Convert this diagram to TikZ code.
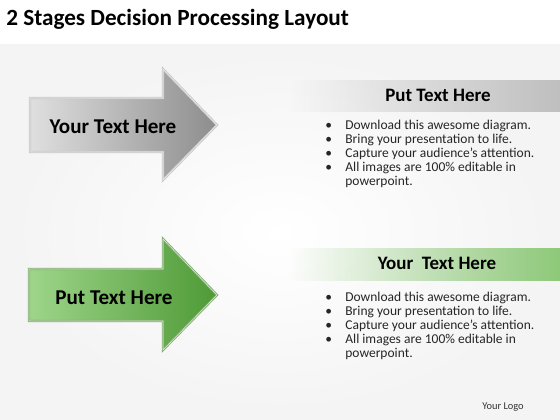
\documentclass[tikz,border=0pt]{standalone}
\usepackage{fontspec}
\setmainfont{Carlito}
\usetikzlibrary{positioning, fadings}
\definecolor{silver}{HTML}{A6A6A6}
\definecolor{leafgreen}{HTML}{4E9A36}
\definecolor{palegreen}{HTML}{9ED58A}
\tikzset{
  arrowtext/.style = {font=\fontsize{15}{18}\selectfont\bfseries, text=black},
  headtext/.style = {font=\fontsize{13.5}{16}\selectfont\bfseries, text=black},
  bullets/.style = {font=\fontsize{9.6}{10}\selectfont, text=black!85, align=left, anchor=north west, inner sep=0pt}
}
\newcommand{\bulletlist}{%
  \begin{tabular}{@{}l@{\hspace{9.5pt}}l@{}}
    \textbullet & Download this awesome diagram.\\
    \textbullet & Bring your presentation to life.\\
    \textbullet & Capture your audience’s attention.\\
    \textbullet & All images are 100\% editable in\\
                & powerpoint.
  \end{tabular}}

\begin{document}
\begin{tikzpicture}[x=0.025cm, y=-0.025cm]
  \useasboundingbox (0,0) rectangle (560,420);

  % Background
  \fill[white] (0,0) rectangle (560,420);
  \shade[inner color=white, outer color=gray!9] (0,45) rectangle (560,420);

  % Title
  \node[anchor=west, inner sep=0pt, font=\fontsize{16.5}{20}\selectfont\bfseries] (title) at (6,19) {2 Stages Decision Processing Layout};

  % Grey arrow
  \path[left color=gray!25, right color=silver!85!black]
    (30,98) -- (163,98) -- (163,69) -- (217,125) -- (163,180) -- (163,152) -- (30,152) -- cycle;
  \draw[gray!45, line width=1.6pt, line join=miter]
    (30,98) -- (163,98) -- (163,69) -- (217,125) -- (163,180) -- (163,152) -- (30,152) -- cycle;
  \draw[white!85!gray, line width=0.4pt, line join=miter]
    (30,98) -- (163,98) -- (163,69) -- (217,125) -- (163,180) -- (163,152) -- (30,152) -- cycle;
  \node[arrowtext] (grey) at (113,127) {Your Text Here};

  % Green arrow
  \path[left color=palegreen, right color=leafgreen]
    (29,269) -- (163,269) -- (163,239) -- (217,295) -- (163,350) -- (163,321) -- (29,321) -- cycle;
  \draw[palegreen!80!black, line width=1.6pt, line join=miter]
    (29,269) -- (163,269) -- (163,239) -- (217,295) -- (163,350) -- (163,321) -- (29,321) -- cycle;
  \draw[palegreen!40!white, line width=0.4pt, line join=miter]
    (29,269) -- (163,269) -- (163,239) -- (217,295) -- (163,350) -- (163,321) -- (29,321) -- cycle;
  \node[arrowtext] (green) at (114,298) {Put Text Here};

  % Header bars
  \fill[gray!50, path fading=west] (290,80) rectangle (560,112);
  \node[headtext] (greyhead) at (438,95) {Put Text Here};
  \fill[palegreen!80!leafgreen, path fading=west] (290,248) rectangle (560,281);
  \node[headtext] (greenhead) at (437,263) {Your\ \ Text Here};

  % Bullet lists
  \node[bullets] (greylist) at (325,119) {\bulletlist};
  \node[bullets] (greenlist) at (325,291) {\bulletlist};

  % Logo
  \node[font=\fontsize{7.4}{9}\selectfont, text=black!80] (logo) at (503,407) {Your Logo};

\end{tikzpicture}
\end{document}
